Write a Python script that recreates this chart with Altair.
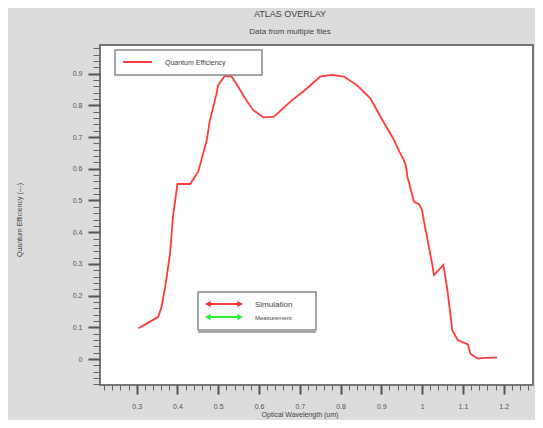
import altair as alt
import pandas as pd

# ---- data ----
wavelength = [0.304, 0.333, 0.353, 0.361, 0.370, 0.382, 0.389, 0.400, 0.431, 0.451,
              0.472, 0.479, 0.496, 0.500, 0.516, 0.533, 0.549, 0.566, 0.586, 0.611,
              0.636, 0.677, 0.718, 0.750, 0.778, 0.808, 0.840, 0.873, 0.898, 0.931,
              0.944, 0.955, 0.960, 0.964, 0.980, 0.992, 1.000, 1.004, 1.025, 1.029,
              1.052, 1.062, 1.074, 1.087, 1.112, 1.119, 1.135, 1.184]
quantum_eff = [0.097, 0.118, 0.133, 0.165, 0.228, 0.333, 0.449, 0.552, 0.552, 0.591,
               0.691, 0.749, 0.838, 0.864, 0.893, 0.891, 0.859, 0.822, 0.785, 0.762,
               0.764, 0.812, 0.854, 0.891, 0.896, 0.891, 0.864, 0.822, 0.764, 0.691,
               0.654, 0.628, 0.610, 0.575, 0.496, 0.489, 0.470, 0.438, 0.297, 0.265,
               0.297, 0.218, 0.091, 0.060, 0.046, 0.016, 0.002, 0.005]

x_major = [0.3, 0.4, 0.5, 0.6, 0.7, 0.8, 0.9, 1.0, 1.1, 1.2]
x_minor = [round(0.22 + 0.02 * i, 2) for i in range(53)]
y_major = [0.0, 0.1, 0.2, 0.3, 0.4, 0.5, 0.6, 0.7, 0.8, 0.9]
y_minor = [round(-0.08 + 0.02 * i, 2) for i in range(54)]

title_text = "ATLAS OVERLAY"
subtitle_text = "Data from multiple files"
y_title = "Quantum Efficiency (---)"
x_title = "Optical Wavelength (um)"
legend1_label = "Quantum Efficiency"
legend2_labels = ["Simulation", "Measurement"]

df = pd.DataFrame({"wl": wavelength, "qe": quantum_eff})
one = pd.DataFrame({"k": [0]})

W, H = 433, 340
xdom = [0.2101, 1.2719]
ydom = [-0.082, 0.9905]
FONT = "Liberation Sans"
TXT = "#555555"

xscale = alt.Scale(domain=xdom, nice=False, zero=False)
yscale = alt.Scale(domain=ydom, nice=False, zero=False)

line = alt.Chart(df).mark_line(color="#ff3a3a", strokeWidth=1.8).encode(
    x=alt.X("wl:Q", scale=xscale,
            axis=alt.Axis(values=x_major, format="~g", orient="bottom", domain=False,
                          grid=False, tickSize=9, tickWidth=2, tickColor="#555555",
                          labelFontSize=7, labelColor=TXT, labelFont=FONT,
                          labelPadding=8, title=None)),
    y=alt.Y("qe:Q", scale=yscale,
            axis=alt.Axis(values=y_major, format="~g", orient="left", domain=False,
                          grid=False, tickSize=12, tickWidth=2, tickColor="#555555",
                          labelFontSize=7, labelColor=TXT, labelFont=FONT,
                          labelPadding=6, title=None)),
)

minor = alt.Chart(df).mark_line(opacity=0).encode(
    x=alt.X("wl:Q", scale=xscale,
            axis=alt.Axis(values=x_minor, labels=False, orient="bottom", domain=False,
                          grid=False, tickSize=5, tickWidth=1, tickColor="#666666",
                          title=None)),
    y=alt.Y("qe:Q", scale=yscale,
            axis=alt.Axis(values=y_minor, labels=False, orient="left", domain=False,
                          grid=False, tickSize=7, tickWidth=1, tickColor="#666666",
                          title=None)),
)

base = alt.Chart(one)

titles = [
    base.mark_text(fontSize=9, font=FONT, color="#444444").encode(
        x=alt.value(190), y=alt.value(-31), text=alt.value(title_text)),
    base.mark_text(fontSize=8, font=FONT, color="#444444").encode(
        x=alt.value(190), y=alt.value(-13), text=alt.value(subtitle_text)),
    base.mark_text(fontSize=7, font=FONT, color="#444444", angle=270).encode(
        x=alt.value(-80), y=alt.value(175), text=alt.value(y_title)),
    base.mark_text(fontSize=7, font=FONT, color="#444444").encode(
        x=alt.value(200), y=alt.value(H + 30), text=alt.value(x_title)),
]

legend1 = [
    base.mark_rect(fill="white", stroke="#888888", strokeWidth=1.5).encode(
        x=alt.value(15), x2=alt.value(162), y=alt.value(5), y2=alt.value(30)),
    base.mark_rule(color="#ff3a3a", strokeWidth=2).encode(
        x=alt.value(23), x2=alt.value(52), y=alt.value(17)),
    base.mark_text(fontSize=7, font=FONT, color="#444444", align="left").encode(
        x=alt.value(65), y=alt.value(18), text=alt.value(legend1_label)),
]

legend2 = [
    base.mark_rect(fill="white", stroke="#888888", strokeWidth=1.5).encode(
        x=alt.value(98), x2=alt.value(216), y=alt.value(247), y2=alt.value(285)),
    base.mark_rule(color="#888888", strokeWidth=1.5).encode(
        x=alt.value(98), x2=alt.value(216), y=alt.value(287)),
    base.mark_rule(color="#ff3a3a", strokeWidth=2).encode(
        x=alt.value(106), x2=alt.value(142), y=alt.value(259)),
    base.mark_point(shape="triangle-left", filled=True, color="#ff3a3a", size=40, opacity=1).encode(
        x=alt.value(108), y=alt.value(259)),
    base.mark_point(shape="triangle-right", filled=True, color="#ff3a3a", size=40, opacity=1).encode(
        x=alt.value(140), y=alt.value(259)),
    base.mark_rule(color="#33ee33", strokeWidth=2).encode(
        x=alt.value(106), x2=alt.value(142), y=alt.value(272)),
    base.mark_point(shape="triangle-left", filled=True, color="#33ee33", size=40, opacity=1).encode(
        x=alt.value(108), y=alt.value(272)),
    base.mark_point(shape="triangle-right", filled=True, color="#33ee33", size=40, opacity=1).encode(
        x=alt.value(140), y=alt.value(272)),
    base.mark_text(fontSize=8, font=FONT, color="#444444", align="left").encode(
        x=alt.value(155), y=alt.value(260), text=alt.value(legend2_labels[0])),
    base.mark_text(fontSize=6, font=FONT, color="#444444", align="left").encode(
        x=alt.value(155), y=alt.value(273), text=alt.value(legend2_labels[1])),
]

chart = alt.layer(minor, line, *titles, *legend1, *legend2).resolve_axis(
    x="independent", y="independent"
).properties(
    width=W, height=H,
    autosize=alt.AutoSizeParams(type="none"),
    padding={"left": 92, "top": 37, "right": 2, "bottom": 35},
).configure(
    background="#dcdcdc",
).configure_view(
    fill="white", stroke="#777777", strokeWidth=2,
)

chart.save("out.html", embed_options={"renderer": "svg", "actions": False})
